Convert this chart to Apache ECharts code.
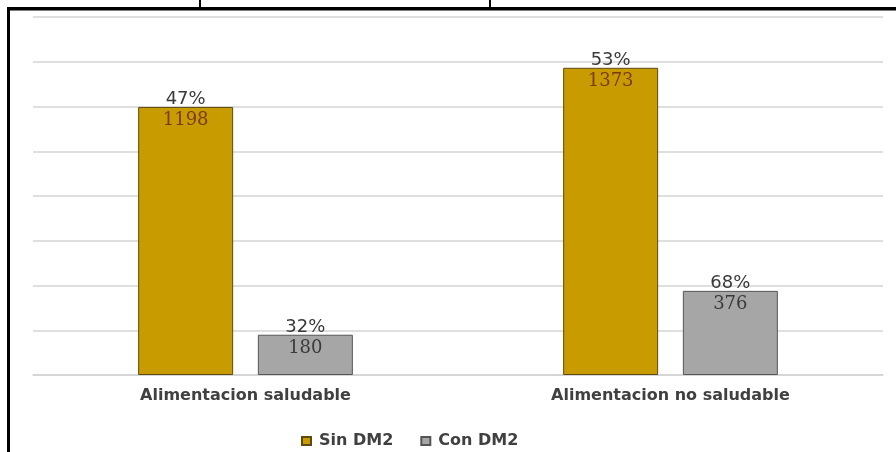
<!DOCTYPE html>
<html>
<head>
<meta charset="utf-8">
<style>
  html, body { margin: 0; padding: 0; background: #ffffff; }
  #chart { width: 896px; height: 452px; }
</style>
<script src="https://cdn.jsdelivr.net/npm/echarts@6/dist/echarts.min.js"></script>
</head>
<body>
<div id="chart"></div>
<script>
// Categories and series values
var categories = ['Alimentacion saludable', 'Alimentacion no saludable'];
var seriesNames = ['Sin DM2', 'Con DM2'];
var sinValues = [1198, 1373];
var conValues = [180, 376];
var sinPct = ['47%', '53%'];
var conPct = ['32%', '68%'];

var chart = echarts.init(document.getElementById('chart'), null, { renderer: 'canvas' });

// percentage above the bar, count just inside its top edge
function labelFor(pcts, valueColor) {
  return {
    show: true,
    position: 'insideTop',
    distance: 0,
    offset: [0, -18],
    formatter: function (p) {
      return '{p|' + pcts[p.dataIndex] + '}\n{v|' + p.value + '}';
    },
    rich: {
      p: { fontFamily: 'DejaVu Sans', fontSize: 18, color: '#3a3a3a', lineHeight: 21, align: 'center' },
      v: { fontFamily: 'DejaVu Serif', fontSize: 18, color: valueColor, lineHeight: 21, align: 'center' }
    }
  };
}

chart.setOption({
  backgroundColor: '#ffffff',
  animation: false,
  grid: { left: 33, right: 13, top: 17, bottom: 77 },
  legend: {
    data: seriesNames,
    left: 296,
    top: 428,
    itemWidth: 9,
    itemHeight: 8,
    itemGap: 27,
    icon: 'rect',
    textStyle: { fontFamily: 'DejaVu Sans', fontWeight: 'bold', fontSize: 16, color: '#404040', padding: [0, 0, 0, 3] }
  },
  xAxis: {
    type: 'category',
    data: categories,
    axisLine: { show: true, lineStyle: { color: '#d4d4d4', width: 1.5 } },
    axisTick: { show: false },
    axisLabel: { margin: 13, fontFamily: 'DejaVu Sans', fontWeight: 'bold', fontSize: 16, color: '#404040' }
  },
  yAxis: {
    type: 'value',
    min: 0,
    max: 1600,
    interval: 200,
    axisLabel: { show: false },
    axisLine: { show: false },
    axisTick: { show: false },
    splitLine: { lineStyle: { color: '#d4d4d4', width: 1.5 } }
  },
  series: [
    {
      name: seriesNames[0],
      type: 'bar',
      data: sinValues,
      barWidth: 95,
      barGap: '26%',
      itemStyle: { color: '#C89B00', borderColor: '#5e4a10', borderWidth: 1 },
      label: labelFor(sinPct, '#7a3a12')
    },
    {
      name: seriesNames[1],
      type: 'bar',
      data: conValues,
      barWidth: 95,
      barGap: '26%',
      itemStyle: { color: '#A6A6A6', borderColor: '#555555', borderWidth: 1 },
      label: labelFor(conPct, '#3a3a3a')
    }
  ],
  graphic: [
    // frame around the chart
    { type: 'rect', shape: { x: 7, y: 7, width: 889, height: 3.5 }, style: { fill: '#000000' }, silent: true },
    { type: 'rect', shape: { x: 7, y: 7, width: 3, height: 445 }, style: { fill: '#000000' }, silent: true },
    { type: 'rect', shape: { x: 199, y: 0, width: 2, height: 8 }, style: { fill: '#000000' }, silent: true },
    { type: 'rect', shape: { x: 489, y: 0, width: 2, height: 8 }, style: { fill: '#000000' }, silent: true }
  ]
});
</script>
</body>
</html>
